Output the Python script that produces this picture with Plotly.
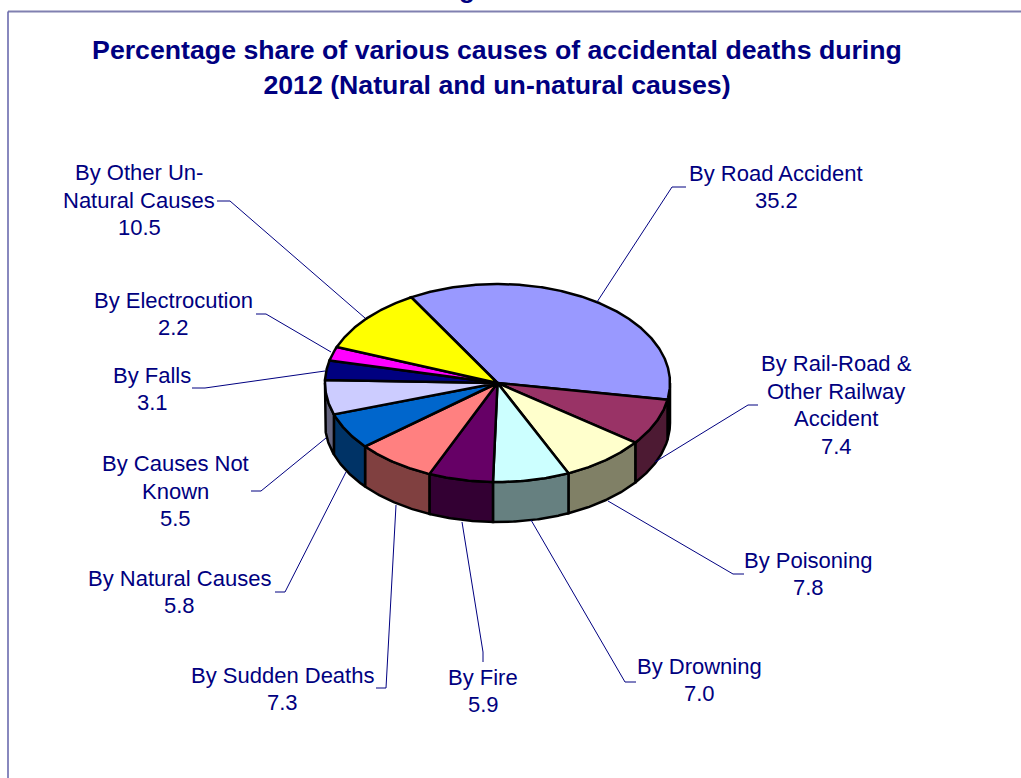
import numpy as np
import plotly.graph_objects as go

causes = ["By Road Accident", "By Rail-Road &<br>Other Railway<br>Accident", "By Poisoning", "By Drowning",
          "By Fire", "By Sudden Deaths", "By Natural Causes", "By Causes Not<br>Known", "By Falls",
          "By Electrocution", "By Other Un-<br>Natural Causes"]
shares = [35.2, 7.4, 7.8, 7.0, 5.9, 7.3, 5.8, 5.5, 3.1, 2.2, 10.5]
colors = ["#9999FF", "#993366", "#FFFFCC", "#CCFFFF", "#660066", "#FF8080", "#0066CC", "#CCCCFF", "#000080",
          "#FF00FF", "#FFFF00"]
side_colors = ["#4D4D80", "#4D1A33", "#808066", "#668080", "#330033", "#804040", "#003366", "#666680", "#000040",
               "#800080", "#808000"]
label_pos = [(776, 187), (836, 405), (808, 574), (699, 680), (483, 691), (282, 689), (179, 592), (175, 491),
             (152, 389), (173, 314), (139, 200)]
leaders = [[(597, 302), (672, 187), (686, 187)], [(655, 462), (748, 405), (758, 405)],
           [(608, 501), (733, 574), (744, 574)], [(531, 520), (625, 682), (636, 682)],
           [(462, 522), (483, 652), (483, 662)], [(396, 505), (386, 688), (376, 688)],
           [(346, 472), (285, 592), (275, 592)], [(326, 438), (261, 491), (251, 491)],
           [(325, 371), (205, 388), (192, 388)], [(331, 352), (266, 314), (256, 314)],
           [(365, 318), (230, 201), (217, 201)]]

CX, CY, RX, RY, DEPTH = 497.5, 383, 172.5, 99, 40
START = -30.0
NAVY = "#000080"
LINE_GAP = 27.5


def rim(a0, a1):
    t = np.radians(np.linspace(a0, a1, max(int(abs(a1 - a0)) * 2, 2)))
    return CX + RX * np.sin(t), CY - RY * np.cos(t)


fig = go.Figure()
angles = START + np.concatenate([[0], np.cumsum(shares)]) / sum(shares) * 360
line = dict(color="black", width=2.5)

for i in range(len(shares)):
    a0, a1 = max(angles[i], 90), min(angles[i + 1], 270)
    if a1 > a0:
        x, y = rim(a0, a1)
        fig.add_trace(go.Scatter(x=np.r_[x, x[::-1], x[0]], y=np.r_[y, y[::-1] + DEPTH, y[0]], mode="lines",
                                 fill="toself", fillcolor=side_colors[i], line=line, hoverinfo="skip"))
for i, name in enumerate(causes):
    x, y = rim(angles[i], angles[i + 1])
    fig.add_trace(go.Scatter(x=np.r_[CX, x, CX], y=np.r_[CY, y, CY], mode="lines", fill="toself",
                             fillcolor=colors[i], line=line, name=name.replace("<br>", " "),
                             text=f"{shares[i]:.1f}", hoverinfo="name+text"))
for pts in leaders:
    fig.add_trace(go.Scatter(x=[p[0] for p in pts], y=[p[1] for p in pts], mode="lines",
                             line=dict(color=NAVY, width=1), hoverinfo="skip"))
for name, v, (x, y) in zip(causes, shares, label_pos):
    rows = name.split("<br>") + [f"{v:.1f}"]
    for k, row in enumerate(rows):
        fig.add_annotation(x=x, y=y + (k - (len(rows) - 1) / 2) * LINE_GAP, text=row, showarrow=False,
                           xanchor="center", yanchor="middle",
                           font=dict(family="Liberation Sans", size=22, color=NAVY))
fig.add_annotation(xref="paper", yref="paper", x=467 / 1021, y=1.014, text="g", showarrow=False, xanchor="center",
                   yanchor="middle", font=dict(family="Liberation Sans", size=26, color=NAVY, weight="bold"))

fig.add_shape(type="line", x0=8, x1=1021, y0=11.5, y1=11.5, line=dict(color="#8080B0", width=2), layer="below")
fig.add_shape(type="line", x0=8, x1=8, y0=11.5, y1=778, line=dict(color="#6060A8", width=1.5), layer="below")

fig.update_layout(
    width=1021, height=778, margin=dict(l=0, r=0, t=0, b=0), showlegend=False,
    paper_bgcolor="white", plot_bgcolor="white",
    title=dict(text="Percentage share of various causes of accidental deaths during<br>2012 (Natural and un-natural causes)",
               x=497 / 1021, xanchor="center", y=1 - 59 / 778, yanchor="middle",
               font=dict(family="Liberation Sans", size=26.7, color=NAVY, weight="bold")),
    xaxis=dict(range=[0, 1021], visible=False, fixedrange=True),
    yaxis=dict(range=[778, 0], visible=False, fixedrange=True),
)
fig.write_html("out.html", config=dict(displayModeBar=False),
               post_script="document.body.style.margin='0';document.body.style.overflow='hidden';")
